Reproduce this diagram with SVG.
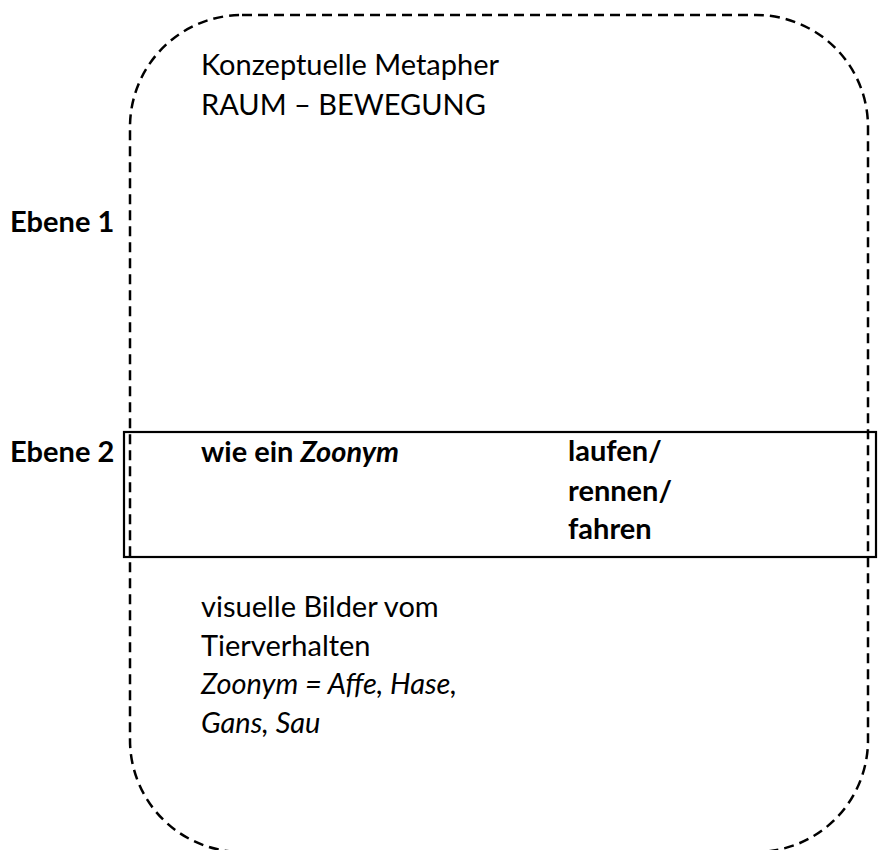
<svg xmlns="http://www.w3.org/2000/svg" width="878" height="850" viewBox="0 0 878 850">
  <style>
    .frame { fill: none; stroke: #000; stroke-width: 2.5; stroke-dasharray: 10 6; }
    .band { fill: none; stroke: #000; stroke-width: 2.2; }
    .t { font-family: Lato, "Liberation Sans", sans-serif; font-size: 29px; fill: #000; }
    .b { font-weight: bold; }
    .i { font-style: italic; }
  </style>
  <rect width="878" height="850" fill="#fff"/>

  <!-- outer dashed frame: the conceptual metaphor space (bottom edge runs just past the canvas) -->
  <g id="metaphor-frame">
    <rect class="frame" x="130" y="15" width="738" height="837" rx="112" ry="112"/>
    <text class="t" x="201" y="75">Konzeptuelle Metapher</text>
    <text class="t" x="201" y="115">RAUM – BEWEGUNG</text>
  </g>

  <!-- level labels -->
  <g id="level-1">
    <text class="t b" x="10" y="232">Ebene 1</text>
  </g>
  <g id="level-2-label">
    <text class="t b" x="10" y="462">Ebene 2</text>
  </g>

  <!-- level 2 band -->
  <g id="level-2">
    <rect class="band" x="124" y="432" width="752" height="125"/>
    <text class="t b" x="201" y="462">wie ein <tspan class="i">Zoonym</tspan></text>
    <text class="t b" x="568" y="461">laufen/</text>
    <text class="t b" x="568" y="501">rennen/</text>
    <text class="t b" x="568" y="539">fahren</text>
  </g>

  <!-- source domain note -->
  <g id="source-images">
    <text class="t" x="201" y="617">visuelle Bilder vom</text>
    <text class="t" x="201" y="656">Tierverhalten</text>
    <text class="t i" x="201" y="694">Zoonym = Affe, Hase,</text>
    <text class="t i" x="201" y="733">Gans, Sau</text>
  </g>

  <!-- no connectors in this diagram -->
  <g id="connectors"></g>
</svg>
